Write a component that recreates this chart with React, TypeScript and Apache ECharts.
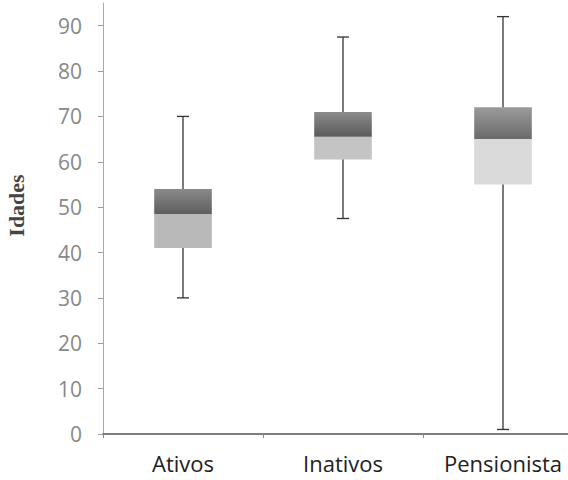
import React, { useEffect, useRef } from "react";
import * as echarts from "echarts";

const categories = ["Ativos", "Inativos", "Pensionista"];
const minValues = [30, 47.5, 1];
const q1Values = [41, 60.5, 55];
const medianValues = [48.5, 65.5, 65];
const q3Values = [54, 71, 72];
const maxValues = [70, 87.5, 92];
const yTickInterval = 10;
const yMax = 95;

const upperTop = ["#8a8a8a", "#8c8c8c", "#9a9a9a"];
const upperBottom = ["#5e5e5e", "#5a5a5a", "#6a6a6a"];
const lowerColors = ["#b9b9b9", "#c4c4c4", "#dadada"];

export default function App() {
  const ref = useRef<HTMLDivElement>(null);
  useEffect(() => {
    if (!ref.current) return;
    const chart = echarts.init(ref.current, null, { renderer: "svg" });
    const data = categories.map((_, i) => [
      i,
      minValues[i],
      q1Values[i],
      medianValues[i],
      q3Values[i],
      maxValues[i],
    ]);
    chart.setOption({
      animation: false,
      backgroundColor: "#ffffff",
      grid: {
        left: 103,
        width: 480,
        top: 3,
        bottom: 46,
        outerBoundsMode: "none",
        containLabel: false,
      },
      xAxis: {
        type: "category",
        data: categories,
        boundaryGap: true,
        axisLine: { lineStyle: { color: "#555", width: 1.5 } },
        axisTick: { show: true, length: 4, lineStyle: { color: "#888" } },
        axisLabel: {
          color: "#222",
          fontSize: 22,
          fontFamily: "Open Sans",
          margin: 18,
        },
        splitLine: { show: false },
      },
      yAxis: {
        type: "value",
        min: 0,
        max: yMax,
        interval: yTickInterval,
        name: "Idades",
        nameLocation: "middle",
        nameRotate: 90,
        nameGap: 76,
        nameTextStyle: {
          fontFamily: "Liberation Serif",
          fontSize: 22,
          fontWeight: "bold",
          color: "#444",
          padding: [0, 0, 0, 26],
        },
        axisLine: { show: true, lineStyle: { color: "#aaa", width: 1 } },
        axisTick: { show: true, length: 5, lineStyle: { color: "#999" } },
        axisLabel: {
          color: "#888",
          fontSize: 21,
          fontFamily: "Open Sans",
          margin: 21,
          showMaxLabel: false,
        },
        splitLine: { show: false },
      },
      series: [
        {
          type: "custom",
          data,
          encode: { x: 0, y: [1, 2, 3, 4, 5] },
          renderItem: (params: any, api: any) => {
            const idx = api.value(0);
            const i = params.dataIndex;
            const pMin = api.coord([idx, api.value(1)]);
            const pQ1 = api.coord([idx, api.value(2)]);
            const pMed = api.coord([idx, api.value(3)]);
            const pQ3 = api.coord([idx, api.value(4)]);
            const pMax = api.coord([idx, api.value(5)]);
            const cx = pMed[0];
            const bw = api.size([1, 0])[0] * 0.36;
            const cap = 6;
            const lineStyle = { stroke: "#333", lineWidth: 1.3 };
            return {
              type: "group",
              children: [
                {
                  type: "rect",
                  shape: { x: cx - bw / 2, y: pMed[1], width: bw, height: pQ1[1] - pMed[1] },
                  style: { fill: lowerColors[i] },
                },
                {
                  type: "rect",
                  shape: { x: cx - bw / 2, y: pQ3[1], width: bw, height: pMed[1] - pQ3[1] },
                  style: {
                    fill: new echarts.graphic.LinearGradient(0, 0, 0, 1, [
                      { offset: 0, color: upperTop[i] },
                      { offset: 1, color: upperBottom[i] },
                    ]),
                  },
                },
                { type: "line", shape: { x1: cx, y1: pMax[1], x2: cx, y2: pQ3[1] }, style: lineStyle },
                { type: "line", shape: { x1: cx, y1: pQ1[1], x2: cx, y2: pMin[1] }, style: lineStyle },
                { type: "line", shape: { x1: cx - cap, y1: pMax[1], x2: cx + cap, y2: pMax[1] }, style: lineStyle },
                { type: "line", shape: { x1: cx - cap, y1: pMin[1], x2: cx + cap, y2: pMin[1] }, style: lineStyle },
              ],
            };
          },
        },
      ],
    });
    return () => chart.dispose();
  }, []);
  return (
    <div
      ref={ref}
      style={{ position: "fixed", left: 0, top: 0, width: 568, height: 480 }}
    />
  );
}
